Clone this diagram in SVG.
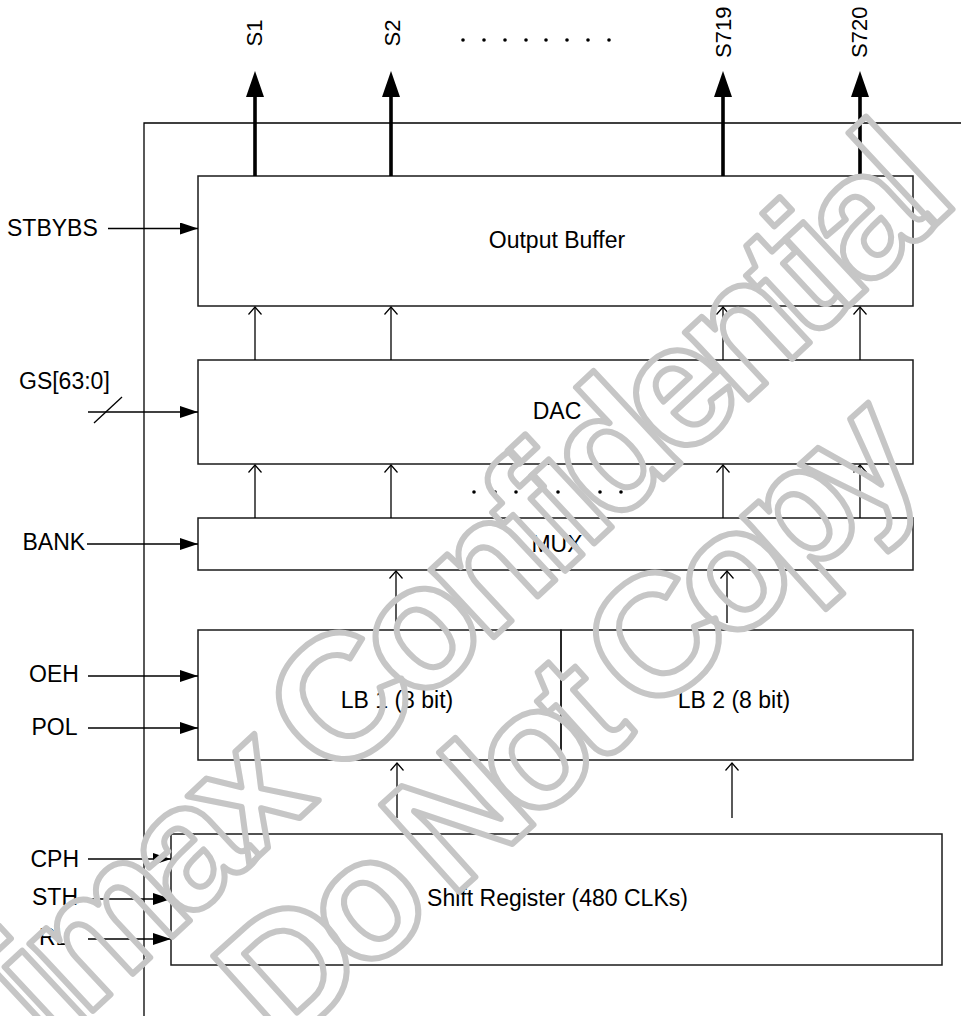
<svg xmlns="http://www.w3.org/2000/svg" width="961" height="1016" viewBox="0 0 961 1016">
<style>
  .box{fill:none;stroke:#1a1a1a;stroke-width:1.5}
  .ln{stroke:#000;stroke-width:1.3;fill:none}
  .thick{stroke:#000;stroke-width:3.6;fill:none}
  .t{font-family:"Liberation Sans",Arial,sans-serif;font-size:23px;fill:#000}
  .c{text-anchor:middle}
  .s{font-family:"Liberation Sans",Arial,sans-serif;font-size:22px;fill:#000}
  .wm{font-family:"Liberation Sans",Arial,sans-serif;font-weight:bold;fill:none;stroke:#c6c6c6;stroke-width:6;stroke-linejoin:round}
  .wm1{font-size:175px;letter-spacing:-14px}
  .wm2{font-size:170px;letter-spacing:-16px}
</style>
<defs>
  <marker id="fa" markerUnits="userSpaceOnUse" markerWidth="18" markerHeight="12" refX="18" refY="6" orient="auto">
    <path d="M0,0 L18,6 L0,12 z" fill="#000"/>
  </marker>
  <marker id="oa" markerUnits="userSpaceOnUse" markerWidth="9" markerHeight="14" refX="7.5" refY="7" orient="auto" overflow="visible">
    <path d="M0,0.5 L7.5,7 L0,13.5" fill="none" stroke="#000" stroke-width="1.2"/>
  </marker>
</defs>

<rect width="961" height="1016" fill="#fff"/>

<g id="frame">
  <path class="ln" d="M144,1016 V123 H961"/>
</g>

<g id="output-buffer">
  <rect class="box" x="198" y="176" width="715" height="130"/>
  <text class="t c" x="557" y="248">Output Buffer</text>
</g>
<g id="dac">
  <rect class="box" x="198" y="360" width="715" height="104"/>
  <text class="t c" x="557" y="419">DAC</text>
</g>
<g id="mux">
  <rect class="box" x="198" y="518" width="715" height="52"/>
  <text class="t c" x="557" y="552">MUX</text>
</g>
<g id="lb1">
  <rect class="box" x="198" y="630" width="363" height="130"/>
  <text class="t c" x="397" y="708">LB 1 (8 bit)</text>
</g>
<g id="lb2">
  <rect class="box" x="561" y="630" width="352" height="130"/>
  <text class="t c" x="734" y="708">LB 2 (8 bit)</text>
</g>
<g id="shift-register">
  <rect class="box" x="171" y="834" width="771" height="131"/>
  <text class="t c" x="557.5" y="906">Shift Register (480 CLKs)</text>
</g>

<g id="outputs">
  <text class="s" transform="translate(262,46.5) rotate(-90)">S1</text>
  <text class="s" transform="translate(400,46.5) rotate(-90)">S2</text>
  <text class="s" transform="translate(731,58) rotate(-90)">S719</text>
  <text class="s" transform="translate(867,58) rotate(-90)">S720</text>
  <g fill="#000">
    <circle cx="463" cy="40" r="1.8"/><circle cx="484" cy="40" r="1.8"/><circle cx="505" cy="40" r="1.8"/><circle cx="526" cy="40" r="1.8"/>
    <circle cx="546" cy="40" r="1.8"/><circle cx="567" cy="40" r="1.8"/><circle cx="588" cy="40" r="1.8"/><circle cx="609" cy="40" r="1.8"/>
  </g>
</g>

<g id="inputs">
  <text class="t" x="7" y="236">STBYBS</text>
  <text class="t" x="19" y="389">GS[63:0]</text>
  <text class="t" x="22.5" y="550">BANK</text>
  <text class="t" x="29" y="682">OEH</text>
  <text class="t" x="31.5" y="735">POL</text>
  <text class="t" x="30.5" y="867">CPH</text>
  <text class="t" x="32" y="905">STH</text>
  <text class="t" x="39" y="945">RL</text>
</g>

<g id="connectors">
  <path class="thick" d="M255,176 V96 M391,176 V96 M723,176 V96 M860,176 V96"/>
  <g fill="#000">
    <polygon points="246,97 264,97 255,71"/>
    <polygon points="382,97 400,97 391,71"/>
    <polygon points="714,97 732,97 723,71"/>
    <polygon points="851,97 869,97 860,71"/>
  </g>
  <line class="ln" x1="255" y1="360" x2="255" y2="307" marker-end="url(#oa)"/>
  <line class="ln" x1="391" y1="360" x2="391" y2="307" marker-end="url(#oa)"/>
  <line class="ln" x1="723" y1="360" x2="723" y2="307" marker-end="url(#oa)"/>
  <line class="ln" x1="860" y1="360" x2="860" y2="307" marker-end="url(#oa)"/>
  <line class="ln" x1="255" y1="518" x2="255" y2="465" marker-end="url(#oa)"/>
  <line class="ln" x1="391" y1="518" x2="391" y2="465" marker-end="url(#oa)"/>
  <line class="ln" x1="723" y1="518" x2="723" y2="465" marker-end="url(#oa)"/>
  <line class="ln" x1="860" y1="518" x2="860" y2="465" marker-end="url(#oa)"/>
  <g fill="#000">
    <circle cx="474" cy="492" r="1.8"/><circle cx="495" cy="492" r="1.8"/><circle cx="516" cy="492" r="1.8"/><circle cx="537" cy="492" r="1.8"/>
    <circle cx="558" cy="492" r="1.8"/><circle cx="579" cy="492" r="1.8"/><circle cx="600" cy="492" r="1.8"/><circle cx="621" cy="492" r="1.8"/>
  </g>
  <line class="ln" x1="396" y1="623" x2="396" y2="571" marker-end="url(#oa)"/>
  <line class="ln" x1="727" y1="623" x2="727" y2="571" marker-end="url(#oa)"/>
  <line class="ln" x1="397" y1="818" x2="397" y2="763" marker-end="url(#oa)"/>
  <line class="ln" x1="732" y1="818" x2="732" y2="763" marker-end="url(#oa)"/>
  <line class="ln" x1="108" y1="228.5" x2="198" y2="228.5" marker-end="url(#fa)"/>
  <line class="ln" x1="88" y1="412" x2="198" y2="412" marker-end="url(#fa)"/>
  <line class="ln" x1="94" y1="423" x2="122" y2="397"/>
  <line class="ln" x1="87" y1="544" x2="198" y2="544" marker-end="url(#fa)"/>
  <line class="ln" x1="88" y1="676" x2="198" y2="676" marker-end="url(#fa)"/>
  <line class="ln" x1="88" y1="728" x2="198" y2="728" marker-end="url(#fa)"/>
  <line class="ln" x1="88" y1="859" x2="171" y2="859" marker-end="url(#fa)"/>
  <line class="ln" x1="88" y1="899" x2="171" y2="899" marker-end="url(#fa)"/>
  <line class="ln" x1="88" y1="939" x2="171" y2="939" marker-end="url(#fa)"/>
</g>

<g id="watermark">
  <text class="wm wm1" text-anchor="middle" transform="translate(464,665) rotate(-43)">Himax Confidential</text>
  <text class="wm wm2" text-anchor="middle" transform="translate(600,765) rotate(-42)">Do Not Copy</text>
</g>
</svg>
